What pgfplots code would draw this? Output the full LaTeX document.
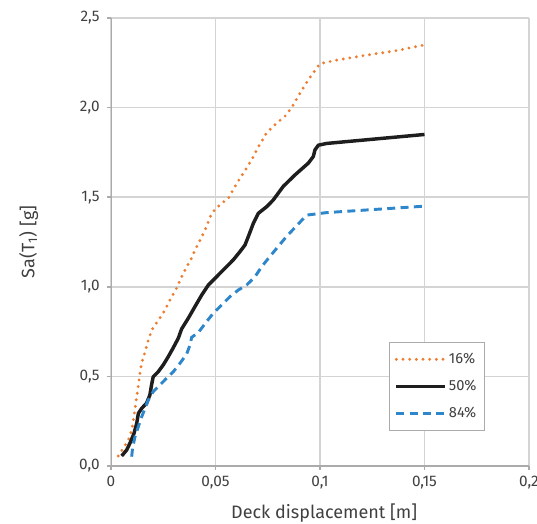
\documentclass[border=0pt]{standalone}
\usepackage{fontspec}
\setmainfont{Fira Sans}
\usepackage{pgfplots}
\pgfplotsset{compat=1.18}
\definecolor{gridgray}{HTML}{D4D4D4}
\definecolor{axgray}{HTML}{ABABAB}
\definecolor{corange}{HTML}{ED7D31}
\definecolor{cblue}{HTML}{2E86CB}
\definecolor{cblack}{HTML}{1E1E1E}
\definecolor{txt}{HTML}{404040}
\begin{document}
\begin{tikzpicture}
\begin{axis}[
  scale only axis,
  width=313.5pt, height=336pt,
  xmin=0, xmax=0.2, ymin=0, ymax=2.5,
  xtick={0,0.05,0.1,0.15,0.2},
  xticklabels={0,{0,05},{0,1},{0,15},{0,2}},
  ytick={0,0.5,1,1.5,2,2.5},
  yticklabels={{0,0},{0,5},{1,0},{1,5},{2,0},{2,5}},
  grid=major,
  major grid style={gridgray, line width=1.1pt},
  axis line style={draw=none},
  axis x line*=bottom, axis y line*=left,
  tick style={axgray, line width=1.1pt},
  xtick align=outside, ytick align=outside,
  major tick length=3pt,
  tick label style={font=\fontsize{11.5}{13}\selectfont, text=txt},
  yticklabel style={xshift=-2pt},
  xticklabel style={yshift=-1pt},
  xlabel={Deck displacement [m]},
  ylabel={Sa(T\textsubscript{1}) [g]},
  label style={font=\fontsize{13.5}{16}\selectfont, text=txt},
  xlabel style={at={(axis description cs:0.51,-0.104)}, anchor=center},
  ylabel style={at={(axis description cs:-0.197,0.5)}, anchor=center, rotate=0},
  legend style={at={(0.895,0.277)}, anchor=north east, draw=axgray, line width=0.8pt,
    font=\fontsize{11}{13}\selectfont, text=txt, row sep=7pt, inner xsep=4pt, inner ysep=6pt},
  legend cell align=left,
  legend image code/.code={\draw[#1] (0cm,0cm) -- (1.27cm,0cm);},
]
\addplot[corange, line width=2.4pt, dash pattern=on 0pt off 5pt, line cap=round] coordinates {
(0.0035,0.056) (0.0059,0.10) (0.0083,0.145) (0.0099,0.20) (0.0107,0.257) (0.0115,0.32)
(0.0123,0.385) (0.0131,0.45) (0.0139,0.52) (0.0147,0.575) (0.0163,0.636) (0.0178,0.70)
(0.0195,0.76) (0.0225,0.81) (0.0258,0.87) (0.0282,0.926) (0.0314,0.993) (0.0338,1.056)
(0.0362,1.112) (0.0386,1.16) (0.0402,1.205) (0.0426,1.26) (0.0450,1.317) (0.0466,1.363)
(0.0482,1.41) (0.0505,1.44) (0.0530,1.467) (0.0560,1.49) (0.0593,1.56) (0.0633,1.634)
(0.0673,1.708) (0.0705,1.78) (0.0745,1.86) (0.0793,1.913) (0.0840,1.96) (0.0872,2.015)
(0.0904,2.08) (0.0936,2.14) (0.0968,2.195) (0.1000,2.245) (0.1080,2.265) (0.1207,2.29)
(0.1367,2.318) (0.1500,2.35)
};
\addlegendentry{16\%}
\addplot[cblack, line width=2.6pt] coordinates {
(0.0051,0.056) (0.0075,0.089) (0.0094,0.136) (0.0110,0.182) (0.0123,0.238) (0.0131,0.294)
(0.0147,0.322) (0.0170,0.35) (0.0186,0.396) (0.0194,0.452) (0.0202,0.498) (0.0226,0.526)
(0.0250,0.564) (0.0274,0.61) (0.0298,0.66) (0.0322,0.713) (0.0338,0.765) (0.0370,0.825)
(0.0402,0.89) (0.0434,0.954) (0.0466,1.01) (0.0505,1.056) (0.0545,1.103) (0.0585,1.15)
(0.0617,1.196) (0.0641,1.233) (0.0657,1.28) (0.0681,1.354) (0.0705,1.41) (0.0745,1.447)
(0.0776,1.484) (0.0824,1.56) (0.0880,1.624) (0.0944,1.69) (0.0968,1.727) (0.0976,1.764)
(0.0992,1.79) (0.1032,1.80) (0.1500,1.85)
};
\addlegendentry{50\%}
\addplot[cblue, line width=2.2pt, dash pattern=on 6pt off 4pt] coordinates {
(0.0099,0.052) (0.0103,0.099) (0.0115,0.164) (0.0131,0.22) (0.0147,0.275) (0.0163,0.322)
(0.0178,0.368) (0.0202,0.415) (0.0234,0.452) (0.0266,0.49) (0.0298,0.526) (0.0330,0.573)
(0.0362,0.625) (0.0378,0.675) (0.0386,0.718) (0.0418,0.745) (0.0457,0.805) (0.0489,0.852)
(0.0529,0.898) (0.0569,0.945) (0.0609,0.982) (0.0649,1.01) (0.0689,1.056) (0.0721,1.112)
(0.0753,1.159) (0.0800,1.225) (0.0840,1.281) (0.0936,1.40) (0.1032,1.414) (0.1500,1.45)
};
\addlegendentry{84\%}
\draw[axgray, line width=1.1pt] (axis cs:0,0) -- (axis cs:0,2.5);
\draw[axgray, line width=1.1pt] (axis cs:0,0) -- (axis cs:0.2,0);
\end{axis}
\pgfresetboundingbox
\useasboundingbox ([xshift=-83.25pt,yshift=-42.75pt]current axis.south west) rectangle ([xshift=6pt,yshift=13.5pt]current axis.north east);
\end{tikzpicture}
\end{document}
